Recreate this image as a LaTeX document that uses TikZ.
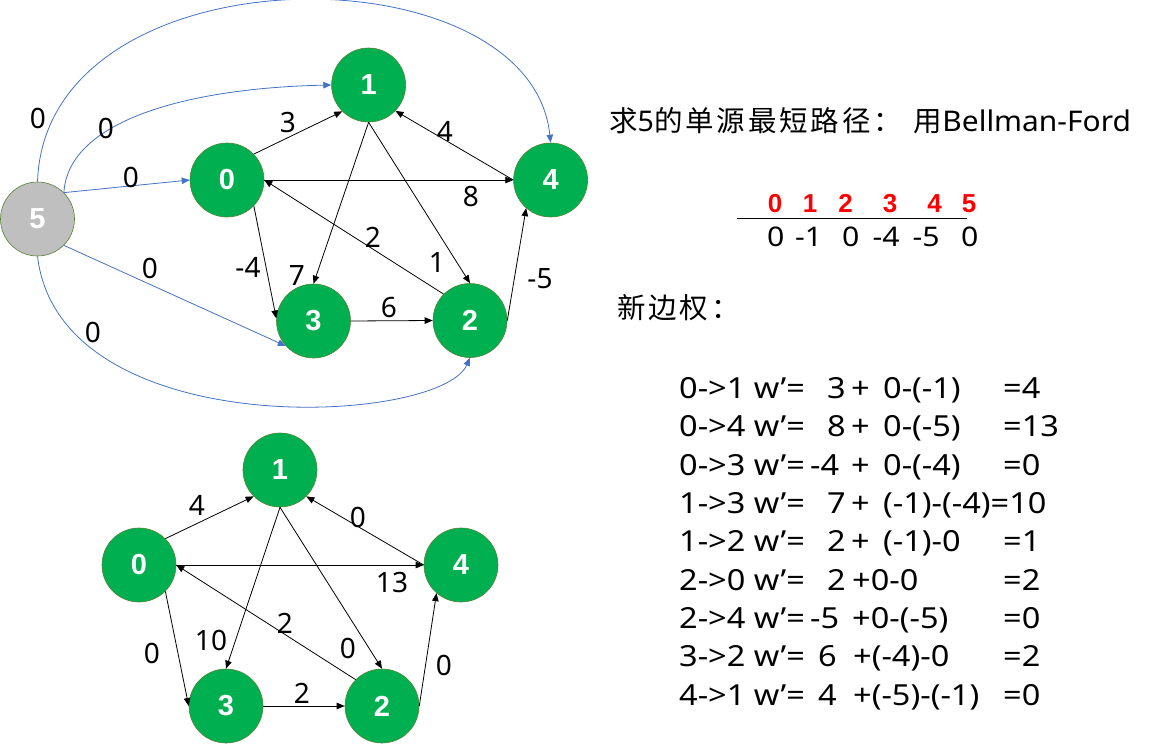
\documentclass[tikz,border=0pt]{standalone}
\usepackage{fontspec}
\setmainfont{Noto Sans}
\newfontfamily\cjk[LetterSpace=10]{Noto Sans CJK SC}
\newfontfamily\eqf[FakeStretch=1.12]{Noto Sans}
\newfontfamily\ttlf[FakeStretch=1.05]{Noto Sans}
\newfontfamily\labf{Noto Sans}
\newfontfamily\numf{Liberation Sans Bold}
\usetikzlibrary{arrows.meta}
\definecolor{ngreen}{HTML}{00B050}
\definecolor{nedge}{HTML}{548235}
\definecolor{ngray}{HTML}{BFBFBF}
\definecolor{oblue}{HTML}{4472C4}
\definecolor{ored}{HTML}{FF0000}
\begin{document}
\begin{tikzpicture}[x=1pt,y=-1pt,
  vert/.style={circle,fill=ngreen,draw=nedge,line width=0.6pt,minimum size=74pt,inner sep=0pt,text=white,font=\numf\fontsize{29}{29}\selectfont},
  src/.style={vert,fill=ngray},
  arr/.style={-{Triangle[length=8pt,width=6.5pt]},line width=0.8pt,draw=black},
  barr/.style={arr,draw=oblue},
  wlab/.style={inner sep=0pt,font=\labf\fontsize{28}{28}\selectfont},
  txt/.style={inner sep=0pt,anchor=base west},
  eqrow/.style={txt,font=\eqf\fontsize{29}{29}\selectfont}
]
\useasboundingbox[fill=white] (0,0) rectangle (1149,744);

% ---------- top graph ----------
\node[src]  (n5) at (37.5,219) {5};
\node[vert] (n0) at (227,180) {0};
\node[vert] (n1) at (368.6,85) {1};
\node[vert] (n4) at (550.6,180) {4};
\node[vert] (n3) at (313.5,321) {3};
\node[vert] (n2) at (470,320.5) {2};

\draw[barr] (n5.north) .. controls +(8,-235) and +(-20,-196) .. (n4.north);
\draw[barr] (n5.45) .. controls +(4.3,-72.8) and +(-141.6,3) .. (n1.west);
\draw[barr] (n5.45) -- (n0.west);
\draw[barr] (n5.-45) -- (n3.222);
\draw[barr] (n5.south) .. controls +(22.5,189) and +(-30,67.5) .. (n2.south);

\draw[arr] (n0.44) -- (n1.225);
\draw[arr] (n4.west) -- (n1.-44);
\draw[arr] (n0.east) -- (n4.west);
\draw[arr] (n2.135) -- (n0.east);
\draw[arr] (n0.-44) -- (n3.176);
\draw[arr] (n1.south) -- (n3.north);
\draw[arr] (n1.south) -- (n2.north);
\draw[arr] (n3.east) -- (n2.west);
\draw[arr] (n2.east) -- (n4.229);

\node[wlab] (l54) at (38,118) {0};
\node[wlab] (l51) at (106,128) {0};
\node[wlab] (l50) at (131,177) {0};
\node[wlab] (l53) at (150,268) {0};
\node[wlab] (l52) at (93,332) {0};
\node[wlab] (l01) at (288,123) {3};
\node[wlab] (l41) at (445,131) {4};
\node[wlab] (l04) at (471,197) {8};
\node[wlab] (l20) at (373,237) {2};
\node[wlab] (l03) at (248,267) {-4};
\node[wlab] (l13) at (297,276) {7};
\node[wlab] (l12) at (437,263) {1};
\node[wlab] (l32) at (389,308) {6};
\node[wlab] (l24) at (540,279) {-5};

% ---------- bottom graph ----------
\node[vert] (b1) at (280,470) {1};
\node[vert] (b0) at (139,565) {0};
\node[vert] (b4) at (461,565) {4};
\node[vert] (b3) at (226,706) {3};
\node[vert] (b2) at (382,706) {2};

\draw[arr] (b0.45) -- (b1.225);
\draw[arr] (b4.west) -- (b1.-45);
\draw[arr] (b0.east) -- (b4.west);
\draw[arr] (b2.135) -- (b0.east);
\draw[arr] (b0.-45) -- (b3.west);
\draw[arr] (b1.south) -- (b3.north);
\draw[arr] (b1.south) -- (b2.north);
\draw[arr] (b3.east) -- (b2.west);
\draw[arr] (b2.east) -- (b4.229);

\node[wlab] (m01) at (197,505) {4};
\node[wlab] (m41) at (358,517) {0};
\node[wlab] (m04) at (392,582) {13};
\node[wlab] (m03) at (152,653) {0};
\node[wlab] (m13) at (211,640) {10};
\node[wlab] (m12) at (348,648) {0};
\node[wlab] (m20) at (285,623) {2};
\node[wlab] (m32) at (302,693) {2};
\node[wlab] (m24) at (444,665) {0};

% ---------- right text ----------
\node[inner sep=0pt,anchor=west,font=\fontsize{28.5}{28.5}\selectfont] (title) at (609,121)
  {{\cjk 求}5{\cjk 的单源最短路径：}\hspace*{12pt}{\cjk 用}{\ttlf Bellman-Ford}};

\node[txt,text=ored,font=\numf\fontsize{26}{26}\selectfont] (hdr) at (775,212)
  {\makebox[0pt]{0}\hspace*{35pt}\makebox[0pt]{1}\hspace*{35.3pt}\makebox[0pt]{2}\hspace*{44.7pt}\makebox[0pt]{3}\hspace*{44.3pt}\makebox[0pt]{4}\hspace*{34.7pt}\makebox[0pt]{5}};
\coordinate (rl) at (737,218.3);
\coordinate (rr) at (967,218.3);
\draw[line width=1pt] (rl) -- (rr);
\node[txt,font=\eqf\fontsize{27}{27}\selectfont] (vals) at (775.5,246.7)
  {\makebox[0pt]{0}\hspace*{33pt}\makebox[0pt]{-1}\hspace*{42pt}\makebox[0pt]{0}\hspace*{35.5pt}\makebox[0pt]{-4}\hspace*{40pt}\makebox[0pt]{-5}\hspace*{43.5pt}\makebox[0pt]{0}};

\node[inner sep=0pt,anchor=west,font=\cjk\fontsize{28.5}{28.5}\selectfont] (xbq) at (617,308) {新边权：};

\node[eqrow] (e1) at (679,398.3) {\rlap{0->1 w’=}\hspace*{148pt}\rlap{3}\hspace*{24pt}\rlap{+}\hspace*{32pt}\rlap{0-(-1)}\hspace*{120pt}\rlap{=4}};
\node[eqrow] (e2) at (679,436.6) {\rlap{0->4 w’=}\hspace*{148pt}\rlap{8}\hspace*{24pt}\rlap{+}\hspace*{32pt}\rlap{0-(-5)}\hspace*{120pt}\rlap{=13}};
\node[eqrow] (e3) at (679,475.0) {\rlap{0->3 w’=}\hspace*{131pt}\rlap{-4}\hspace*{41pt}\rlap{+}\hspace*{32pt}\rlap{0-(-4)}\hspace*{120pt}\rlap{=0}};
\node[eqrow] (e4) at (679,513.3) {\rlap{1->3 w’=}\hspace*{148pt}\rlap{7}\hspace*{24pt}\rlap{+}\hspace*{32pt}\rlap{(-1)-(-4)=10}};
\node[eqrow] (e5) at (679,551.6) {\rlap{1->2 w’=}\hspace*{148pt}\rlap{2}\hspace*{24pt}\rlap{+}\hspace*{32pt}\rlap{(-1)-0}\hspace*{120pt}\rlap{=1}};
\node[eqrow] (e6) at (679,590.0) {\rlap{2->0 w’=}\hspace*{148pt}\rlap{2}\hspace*{25pt}\rlap{+0-0}\hspace*{151pt}\rlap{=2}};
\node[eqrow] (e7) at (679,628.3) {\rlap{2->4 w’=}\hspace*{131pt}\rlap{-5}\hspace*{42pt}\rlap{+0-(-5)}\hspace*{151pt}\rlap{=0}};
\node[eqrow] (e8) at (679,666.6) {\rlap{3->2 w’=}\hspace*{139pt}\rlap{6}\hspace*{35pt}\rlap{+(-4)-0}\hspace*{150pt}\rlap{=2}};
\node[eqrow] (e9) at (679,705.0) {\rlap{4->1 w’=}\hspace*{139pt}\rlap{4}\hspace*{35pt}\rlap{+(-5)-(-1)}\hspace*{150pt}\rlap{=0}};
\end{tikzpicture}
\end{document}
